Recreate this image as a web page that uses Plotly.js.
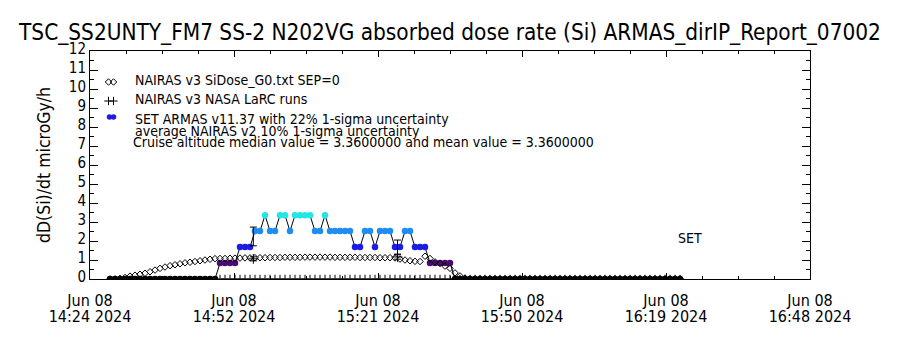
<!DOCTYPE html>
<html>
<head>
<meta charset="utf-8">
<script src="https://cdn.plot.ly/plotly-3.0.1.min.js"></script>
<style>html,body{margin:0;padding:0;background:#fff;}#chart{width:900px;height:350px;}</style>
</head>
<body>
<div id="chart"></div>
<script>
// ---------------- DATA ----------------
const day = '2024-06-08 ';

// ARMAS / NAIRAS 1-minute samples (UT)
const sampleTimes = [
 '14:28','14:29','14:30','14:31','14:32','14:33','14:34','14:35','14:36','14:37','14:38','14:39','14:40','14:41','14:42','14:43','14:44','14:45','14:46','14:47','14:48','14:49',
 '14:50','14:51','14:52','14:53','14:54','14:55','14:56','14:57','14:58','14:59',
 '15:00','15:01','15:02','15:03','15:04','15:05','15:06','15:07','15:08','15:09','15:10','15:11','15:12','15:13','15:14','15:15','15:16','15:17','15:18','15:19',
 '15:20','15:21','15:22','15:23','15:24','15:25','15:26','15:27','15:28','15:29','15:30','15:31','15:32','15:33','15:34','15:35','15:36','15:37','15:38','15:39',
 '15:40','15:41','15:42','15:43','15:44','15:45','15:46','15:47','15:48','15:49','15:50','15:51','15:52','15:53','15:54','15:55','15:56','15:57','15:58','15:59',
 '16:00','16:01','16:02','16:03','16:04','16:05','16:06','16:07','16:08','16:09','16:10','16:11','16:12','16:13','16:14','16:15','16:16','16:17','16:18','16:19',
 '16:20','16:21','16:22'
];

// SET ARMAS v11.37 dose rate (microGy/h)
const armasDose = [
 0,0,0,0,0,0,0,0,0,0,0,0,0,0,0,0,0,0,0,0,0,0,
 0.84,0.84,0.84,0.84,1.68,1.68,1.68,2.52,2.52,3.36,
 2.52,2.52,3.36,3.36,2.52,3.36,3.36,3.36,3.36,2.52,2.52,3.36,2.52,2.52,2.52,2.52,2.52,1.68,1.68,2.52,
 2.52,1.68,2.52,2.52,2.52,1.68,1.68,2.52,2.52,1.68,1.68,1.68,0.84,0.84,0.84,0.84,0.84,0,0,0,
 0,0,0,0,0,0,0,0,0,0,0,0,0,0,0,0,0,0,0,0,
 0,0,0,0,0,0,0,0,0,0,0,0,0,0,0,0,0,0,0,0,
 0,0,0
];

// NAIRAS v3 SiDose_G0.txt SEP=0 (microGy/h)
const nairasSiDose = [
 0,0,0.03,0.08,0.15,0.20,0.25,0.30,0.38,0.47,0.56,0.63,0.70,0.75,0.80,0.85,0.88,0.92,0.96,1.00,1.04,1.07,
 1.08,1.08,1.09,1.10,1.10,1.11,1.11,1.12,1.12,1.12,
 1.13,1.13,1.13,1.14,1.14,1.14,1.14,1.15,1.15,1.15,1.15,1.15,1.15,1.14,1.14,1.14,1.14,1.14,1.13,1.13,
 1.13,1.13,1.12,1.12,1.12,1.11,1.05,1.00,0.96,0.93,0.92,1.20,1.08,0.90,0.82,0.68,0.56,0.32,0.16,0.05,
 0,0,0,0,0,0,0,0,0,0,0,0,0,0,0,0,0,0,0,0,
 0,0,0,0,0,0,0,0,0,0,0,0,0,0,0,0,0,0,0,0,
 0,0,0
];

// NAIRAS v3 NASA LaRC runs
const larcTimes = ['14:56:40','15:25:30'];
const larcDose = [1.06, 1.16];
const larcErrPct = 10;
const larcZeroTimes = sampleTimes.slice(22);
const larcZeroDose = [
 0,0,0,0,0,0,0,0,0,0,0,0,0,0,0,0,0,0,0,0,0,0,0,0,0,0,0,0,0,0,0,0,0,0,0,0,0,0,0,0,0,0,0,0,0,0,0,
 0,0,0,0,0,0,0,0,0,0,0,0,0,0,0,0,0,0,0,0,0,0,0,0,0,0,0,0,0,0,0,0,0,0,0,0,0,0,0,0,0,0,0,0,0,0
];

// ARMAS value at the LaRC run times, with 22% 1-sigma uncertainty
const armasAtLarc = [2.24, 1.68];
const armasErrPct = 22;

// axis ticks
const majorTicks = ['14:24:00','14:52:48','15:21:36','15:50:24','16:19:12','16:48:00'];
const majorDateLabels = ['Jun 08','Jun 08','Jun 08','Jun 08','Jun 08','Jun 08'];
const majorTimeLabels = ['14:24 2024','14:52 2024','15:21 2024','15:50 2024','16:19 2024','16:48 2024'];
const yTicks = [0,1,2,3,4,5,6,7,8,9,10,11,12];

// dose-level colours (0, 0.84, 1.68, 2.52, 3.36)
const levelColours = ['#000000','#4b0a72','#1c1ce4','#1e8cf2','#22e6e6'];

// ---------------- CHART ----------------
const T = a => a.map(s => day + s);
const FONT = '"DejaVu Sans Condensed", "Liberation Sans Narrow", "DejaVu Sans", sans-serif';

const traces = [
  { // ARMAS line + colour-coded dots
    x: T(sampleTimes), y: armasDose, mode: 'lines+markers', type: 'scatter',
    line: {color: '#000', width: 1},
    marker: {size: 6.5, color: armasDose, cmin: 0, cmax: 3.36,
      colorscale: levelColours.map((c, i) => [i / (levelColours.length - 1), c]),
      line: {width: 0}},
    showlegend: false, hoverinfo: 'skip'
  },
  { // NAIRAS SiDose diamonds
    x: T(sampleTimes), y: nairasSiDose, mode: 'markers', type: 'scatter',
    marker: {symbol: 'diamond-open', size: 5, color: '#000', line: {width: 1, color: '#000'}},
    showlegend: false, hoverinfo: 'skip'
  },
  { // LaRC zero-level plus signs
    x: T(larcZeroTimes), y: larcZeroDose, mode: 'markers', type: 'scatter',
    marker: {symbol: 'cross-thin-open', size: 6, color: '#000', line: {width: 1, color: '#000'}},
    showlegend: false, hoverinfo: 'skip'
  },
  { // LaRC runs with 10% error
    x: T(larcTimes), y: larcDose, mode: 'markers', type: 'scatter',
    marker: {symbol: 'cross-thin-open', size: 7, color: '#000', line: {width: 1, color: '#000'}},
    error_y: {type: 'percent', value: larcErrPct, color: '#000', thickness: 1, width: 3.5},
    showlegend: false, hoverinfo: 'skip'
  },
  { // ARMAS 22% error bars
    x: T(larcTimes), y: armasAtLarc, mode: 'markers', type: 'scatter',
    marker: {size: 1, color: 'rgba(0,0,0,0)'},
    error_y: {type: 'percent', value: armasErrPct, color: '#000', thickness: 1, width: 3.5},
    showlegend: false, hoverinfo: 'skip'
  },
  // legend glyphs (overlay axes in pixel units)
  { x: [108.5, 113.5], y: [82, 82], xaxis: 'x2', yaxis: 'y2', mode: 'markers', type: 'scatter',
    marker: {symbol: 'diamond-open', size: 5, color: '#000', line: {width: 1}}, showlegend: false, hoverinfo: 'skip' },
  { x: [108.5, 113.5], y: [101, 101], xaxis: 'x2', yaxis: 'y2', mode: 'markers', type: 'scatter',
    marker: {symbol: 'cross-thin-open', size: 6, color: '#000', line: {width: 1}}, showlegend: false, hoverinfo: 'skip' },
  { x: [109.5, 113.5], y: [117, 117], xaxis: 'x2', yaxis: 'y2', mode: 'markers', type: 'scatter',
    marker: {symbol: 'circle', size: 5.5, color: '#1c1ce4'}, showlegend: false, hoverinfo: 'skip' },
  // invisible trace so the second-line tick axis is drawn
  { x: T(majorTicks), y: yTicks.slice(0, 6), xaxis: 'x3', yaxis: 'y', mode: 'markers', type: 'scatter',
    marker: {size: 1, color: 'rgba(0,0,0,0)'}, showlegend: false, hoverinfo: 'skip' }
];

const ann = (x, y, text, size) => ({x, y, xref: 'x2', yref: 'y2', text, showarrow: false,
  xanchor: 'left', yanchor: 'middle', font: {family: FONT, size: size || 14, color: '#000'}});

const xCommon = {type: 'date', range: [day + '14:24', day + '16:48'], tickmode: 'array', tickvals: T(majorTicks),
  showgrid: false, zeroline: false, automargin: false, tickfont: {family: FONT, size: 16, color: '#000'}};

const layout = {
  width: 900, height: 350,
  margin: {l: 90, r: 90, t: 51, b: 71, pad: 0},
  paper_bgcolor: '#fff', plot_bgcolor: '#fff',
  font: {family: FONT, color: '#000'},
  title: {text: 'TSC_SS2UNTY_FM7 SS-2 N202VG absorbed dose rate (Si) ARMAS_dirIP_Report_07002',
    font: {family: FONT, size: 22.4, color: '#000'}, x: 0.5, xanchor: 'center',
    y: 1 - 32.5 / 350, yanchor: 'middle', yref: 'container'},
  xaxis: Object.assign({}, xCommon, {
    ticktext: majorDateLabels,
    ticks: 'inside', ticklen: 6, tickwidth: 1, tickcolor: '#000',
    minor: {tick0: day + '14:24', dtick: 432000, ticks: 'inside', ticklen: 3, tickcolor: '#000', showgrid: false},
    showline: true, linecolor: '#000', linewidth: 1, mirror: 'ticks',
    ticklabelstandoff: 7
  }),
  xaxis3: Object.assign({}, xCommon, {
    overlaying: 'x', anchor: 'y', side: 'bottom', ticktext: majorTimeLabels,
    ticks: '', showline: false, ticklabelstandoff: 26
  }),
  yaxis: {
    range: [0, 12], tickmode: 'array', tickvals: yTicks,
    ticks: 'inside', ticklen: 8, tickwidth: 1, tickcolor: '#000',
    minor: {dtick: 0.5, ticks: 'inside', ticklen: 4, tickcolor: '#000', showgrid: false},
    showline: true, linecolor: '#000', linewidth: 1, mirror: 'ticks',
    showgrid: false, zeroline: false, ticklabelshift: -2,
    tickfont: {family: FONT, size: 15, color: '#000'},
    title: {text: 'dD(Si)/dt microGy/h', font: {family: FONT, size: 17.5, color: '#000'}, standoff: 13},
    automargin: false
  },
  xaxis2: {overlaying: 'x', range: [90, 810], visible: false, fixedrange: true},
  yaxis2: {overlaying: 'y', range: [279, 51], visible: false, fixedrange: true},
  annotations: [
    ann(133, 80, 'NAIRAS v3 SiDose_G0.txt SEP=0'),
    ann(133, 99, 'NAIRAS v3 NASA LaRC runs'),
    ann(133, 119, 'SET ARMAS v11.37 with 22% 1-sigma uncertainty'),
    ann(133, 131, 'average NAIRAS v2 10% 1-sigma uncertainty'),
    ann(131, 142, 'Cruise altitude median value = 3.3600000 and mean value = 3.3600000'),
    ann(676, 238, 'SET', 14),
    {x: 450, y: 335, xref: 'x2', yref: 'y2', text: 'UT time', showarrow: false, xanchor: 'center', yanchor: 'middle',
     font: {family: FONT, size: 16.5, color: '#000'}}
  ],
  showlegend: false
};

Plotly.newPlot('chart', traces, layout, {staticPlot: true, displayModeBar: false});
</script>
</body>
</html>
